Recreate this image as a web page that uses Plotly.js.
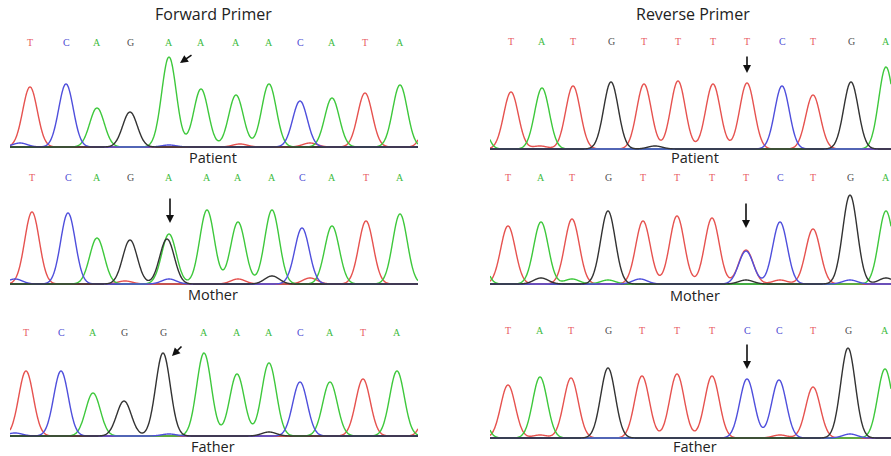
<!DOCTYPE html>
<html><head><meta charset="utf-8">
<script src="https://cdn.plot.ly/plotly-3.0.1.min.js"></script>
<style>html,body{margin:0;padding:0;background:#fff}#chart{width:891px;height:456px}</style>
</head><body><div id="chart"></div>
<script>
// ---- Data ----
const fwdPatientBases = ['T','C','A','G','A','A','A','A','C','A','T','A'];
const fwdPatientPos   = [30,66,97,130,169,201,236,269,300,332,365,400];
const fwdPatientHeight= [60,63,39,35,90,58,52,63,46,49,54,62];

const fwdMotherBases  = ['T','C','A','G','A','A','A','A','C','A','T','A'];
const fwdMotherPos    = [32,68,97,130,169,207,238,272,302,332,366,400];
const fwdMotherHeight = [72,71,46,44,50,74,62,74,56,58,63,70];

const fwdFatherBases  = ['T','C','A','G','G','A','A','A','C','A','T','A'];
const fwdFatherPos    = [26,61,93,124,163,204,237,269,300,330,363,397];
const fwdFatherHeight = [65,65,43,35,83,83,62,73,54,54,57,65];

const revPatientBases = ['T','A','T','G','T','T','T','T','C','T','G','A'];
const revPatientPos   = [511,542,573,611,644,678,713,747,782,813,851,886];
const revPatientHeight= [57,61,63,67,65,68,65,66,63,54,67,82];

const revMotherBases  = ['T','A','T','G','T','T','T','T','C','T','G','A'];
const revMotherPos    = [508,541,572,608,643,677,712,746,780,813,850,886];
const revMotherHeight = [58,62,65,73,63,68,66,34,62,55,89,73];

const revFatherBases  = ['T','A','T','G','T','T','T','C','C','T','G','A'];
const revFatherPos    = [508,540,571,608,642,677,712,747,779,813,848,885];
const revFatherHeight = [53,61,60,70,62,64,62,59,58,51,90,69];

// secondary (background / heterozygous) signals
const fwdPatientMinorBases = ['C','T','T','C','T'];
const fwdPatientMinorPos   = [20,240,310,169,433];
const fwdPatientMinorHeight= [4,3,4,2,60];

const fwdMotherMinorBases  = ['G','C','C','T','G','T','T'];
const fwdMotherMinorPos    = [167,15,169,238,272,310,125];
const fwdMotherMinorHeight = [45,5,5,5,8,6,3];

const fwdFatherMinorBases  = ['C','C','G','T'];
const fwdFatherMinorPos    = [15,169,269,433];
const fwdFatherMinorHeight = [3,2,4,60];

const revPatientMinorBases = ['A','T','G'];
const revPatientMinorPos   = [476,540,655];
const revPatientMinorHeight= [60,3,3];

const revMotherMinorBases  = ['C','A','G','A','A','C','G','T','C','G'];
const revMotherMinorPos    = [746,476,541,572,608,640,746,780,850,886];
const revMotherMinorHeight = [33,50,6,5,4,5,4,4,4,6];

const revFatherMinorBases  = ['A','T','T','C'];
const revFatherMinorPos    = [476,540,780,850];
const revFatherMinorHeight = [50,3,3,4];

const columnTitles = ['Forward Primer','Reverse Primer'];
const sampleLabels = ['Patient','Mother','Father'];

// ---- Presentation ----
const W = 891, H = 456;
const traceColor = {T:'#e6524f', C:'#4f4fdc', A:'#3ec83c', G:'#333333'};
const letterColor = {T:'#e85a64', C:'#4c4cd4', A:'#40bb40', G:'#505050'};
const drawOrder = ['T','A','C','G'];
const SIGMA = 7.3;

const panels = [
  {col:0,row:0,bases:fwdPatientBases,pos:fwdPatientPos,h:fwdPatientHeight,mb:fwdPatientMinorBases,mp:fwdPatientMinorPos,mh:fwdPatientMinorHeight,
   base:147,letterPx:43,labelPx:157,span:[10,418],arrow:{i:4,dx:11,dy:-6,ax:13,ay:-9}},
  {col:0,row:1,bases:fwdMotherBases,pos:fwdMotherPos,h:fwdMotherHeight,mb:fwdMotherMinorBases,mp:fwdMotherMinorPos,mh:fwdMotherMinorHeight,
   base:284,letterPx:178,labelPx:294,span:[10,418],arrow:{i:4,dx:1,dy:11,ax:0,ay:-26}},
  {col:0,row:2,bases:fwdFatherBases,pos:fwdFatherPos,h:fwdFatherHeight,mb:fwdFatherMinorBases,mp:fwdFatherMinorPos,mh:fwdFatherMinorHeight,
   base:436,letterPx:332,labelPx:446,span:[10,418],arrow:{i:4,dx:9,dy:-3,ax:11,ay:-11}},
  {col:1,row:0,bases:revPatientBases,pos:revPatientPos,h:revPatientHeight,mb:revPatientMinorBases,mp:revPatientMinorPos,mh:revPatientMinorHeight,
   base:149,letterPx:42,labelPx:157,span:[490,891],arrow:{i:7,dx:0,dy:10,ax:0,ay:-18}},
  {col:1,row:1,bases:revMotherBases,pos:revMotherPos,h:revMotherHeight,mb:revMotherMinorBases,mp:revMotherMinorPos,mh:revMotherMinorHeight,
   base:284,letterPx:178,labelPx:295,span:[490,891],arrow:{i:7,dx:0,dy:22,ax:0,ay:-26}},
  {col:1,row:2,bases:revFatherBases,pos:revFatherPos,h:revFatherHeight,mb:revFatherMinorBases,mp:revFatherMinorPos,mh:revFatherMinorHeight,
   base:438,letterPx:330,labelPx:446,span:[490,891],arrow:{i:7,dx:0,dy:10,ax:0,ay:-26}}
];

const traces = [];
const annotations = [];
const layout = {
  width:W, height:H, margin:{l:0,r:0,t:0,b:0},
  paper_bgcolor:'#ffffff', plot_bgcolor:'rgba(0,0,0,0)',
  showlegend:false, annotations:annotations
};

const YLO = -20, YHI = 112;
panels.forEach((p, k) => {
  const n = k + 1;
  const xa = 'xaxis' + (n===1?'':n), ya = 'yaxis' + (n===1?'':n);
  const xr = 'x' + (n===1?'':n), yr = 'y' + (n===1?'':n);
  layout[xa] = {domain:[p.span[0]/W, p.span[1]/W], range:p.span, anchor:yr,
    showgrid:false, zeroline:false, showticklabels:false, showline:false, ticks:'', fixedrange:true};
  const bot = (H - (p.base - YLO)) / H, top = (H - (p.base - YHI)) / H;
  layout[ya] = {domain:[Math.max(0,bot), Math.min(1,top)], range:[YLO + (bot<0 ? -bot*H : 0), YHI - (top>1 ? (top-1)*H : 0)], anchor:xr,
    showgrid:false, zeroline:true, zerolinecolor:'#555555', zerolinewidth:2.2,
    showticklabels:false, showline:false, ticks:'', fixedrange:true};

  // build one signal per dye from peak lists
  const xs = [];
  for (let x = p.span[0]; x <= p.span[1]; x += 0.5) xs.push(x);
  drawOrder.forEach(b => {
    const ys = xs.map(x => {
      let s = 0;
      p.bases.forEach((bb, i) => { if (bb === b) s += p.h[i] * Math.exp(-((x - p.pos[i])**2) / (2*SIGMA*SIGMA)); });
      p.mb.forEach((bb, i) => { if (bb === b) s += p.mh[i] * Math.exp(-((x - p.mp[i])**2) / (2*SIGMA*SIGMA)); });
      return s;
    });
    traces.push({type:'scatter', mode:'lines', x:xs, y:ys, xaxis:xr, yaxis:yr,
      line:{color:traceColor[b], width:1.4, shape:'spline'}, hoverinfo:'skip', cliponaxis:false});
  });

  // base calls
  p.bases.forEach((b, i) => {
    annotations.push({xref:xr, yref:yr, x:p.pos[i], y:p.base - p.letterPx, text:b, showarrow:false,
      font:{family:'Liberation Serif, DejaVu Serif, serif', size:10, color:letterColor[b]}});
  });
  // sample label
  annotations.push({xref:'paper', yref:yr, x:(p.col===0?213:695)/W, y:p.base - p.labelPx, text:sampleLabels[p.row], showarrow:false,
    xanchor:'center', font:{family:'Open Sans, Noto Sans, sans-serif', size:14.5, color:'#222222'}});
  // arrow to the variant
  const a = p.arrow;
  annotations.push({xref:xr, yref:yr, x:p.pos[a.i] + a.dx, y:p.h[a.i] + a.dy, ax:a.ax, ay:a.ay, text:'',
    showarrow:true, arrowhead:2, arrowsize:1, arrowwidth:1.6, arrowcolor:'#111111', standoff:0});
});

columnTitles.forEach((t, c) => {
  annotations.push({xref:'paper', yref:'paper', x:(c===0?213:693)/W, y:1 - 14/H, text:t, showarrow:false,
    xanchor:'center', yanchor:'middle', font:{family:'Open Sans, Noto Sans, sans-serif', size:16, color:'#222222'}});
});

Plotly.newPlot('chart', traces, layout, {staticPlot:true, displayModeBar:false});
</script>
</body></html>
